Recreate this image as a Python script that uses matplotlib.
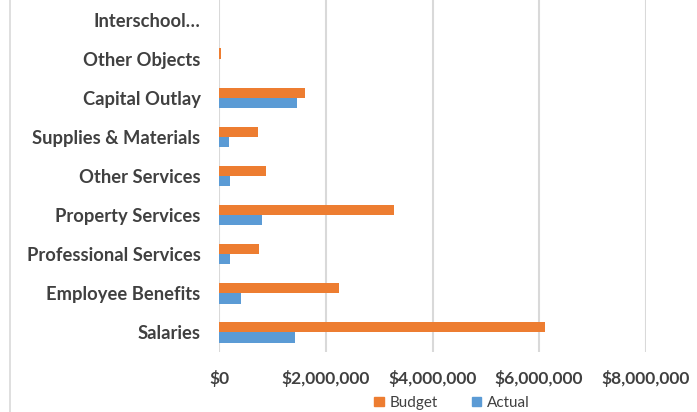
import numpy as np
import matplotlib.pyplot as plt
from matplotlib.lines import Line2D
from matplotlib.ticker import FuncFormatter

# expenditure categories, bottom to top
categories = ['Salaries', 'Employee Benefits', 'Professional Services',
              'Property Services', 'Other Services', 'Supplies & Materials',
              'Capital Outlay', 'Other Objects', 'Interschool\u2026']
budget = [6120000, 2250000, 740000, 3280000, 870000, 720000, 1610000, 30000, 0]
actual = [1420000, 400000, 210000, 800000, 200000, 180000, 1450000, 0, 0]
xticks = [0, 2000000, 4000000, 6000000, 8000000]

orange = '#ED7D31'
blue = '#5B9BD5'
grid = '#D9D9D9'
text = '#404040'

plt.rcParams['font.family'] = ['Lato', 'DejaVu Sans']

fig = plt.figure(figsize=(6.97, 4.12), dpi=100)
ax = fig.add_axes([219.3/697, 1-352/412, (645.7-219.3)/697, 352/412])

y = np.arange(len(categories))
h = 0.26
ax.barh(y + h/2, budget, height=h, color=orange, label='Budget', zorder=3)
ax.barh(y - h/2, actual, height=h, color=blue, label='Actual', zorder=3)

ax.set_xlim(0, 8000000)
ax.set_ylim(-0.5, len(categories) - 0.5)
ax.set_xticks(xticks)
ax.xaxis.set_major_formatter(FuncFormatter(lambda v, p: '${:,.0f}'.format(v)))
ax.set_yticks(y)
ax.set_yticklabels(categories)
ax.grid(axis='x', color=grid, linewidth=1.5, zorder=0)
for s in ax.spines.values():
    s.set_visible(False)
ax.tick_params(length=0, colors=text)
ax.tick_params(axis='x', pad=13, labelsize=12.5)
ax.tick_params(axis='y', pad=13.5, labelsize=13.2)
for lab in ax.get_xticklabels() + ax.get_yticklabels():
    lab.set_fontweight('bold')

# chart border on the left
fig.add_artist(Line2D([10/697, 10/697], [0, 1], color=grid, linewidth=1.2))

handles = [plt.Rectangle((0, 0), 1, 1, color=orange),
           plt.Rectangle((0, 0), 1, 1, color=blue)]
leg = fig.legend(handles, ['Budget', 'Actual'], loc='center',
                 bbox_to_anchor=(452/697, 1-403/412), ncol=2, frameon=False,
                 fontsize=11, handlelength=0.6, handleheight=0.6,
                 handletextpad=0.4, columnspacing=2.2)
for t in leg.get_texts():
    t.set_color(text)

fig.savefig('out.png', dpi=100)
